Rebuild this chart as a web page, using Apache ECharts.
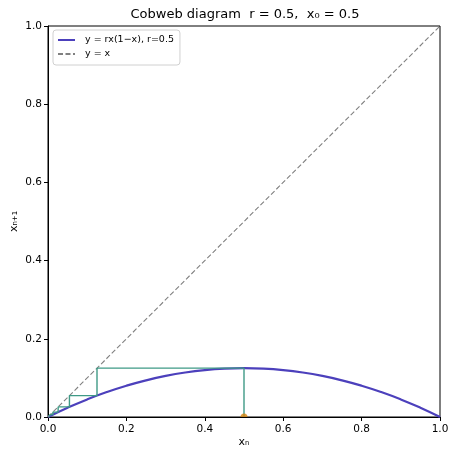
<!DOCTYPE html>
<html>
<head>
<meta charset="utf-8">
<script src="https://cdn.jsdelivr.net/npm/echarts@6/dist/echarts.min.js"></script>
<style>
  html, body { margin: 0; padding: 0; background: #fff; }
  #chart { width: 449px; height: 451px; }
</style>
</head>
<body>
<div id="chart"></div>
<script>
// Logistic map f(x) = r x (1 - x), r = 0.5, sampled on [0, 1]
const curveX = [0, 0.05, 0.1, 0.15, 0.2, 0.25, 0.3, 0.35, 0.4, 0.45, 0.5,
                0.55, 0.6, 0.65, 0.7, 0.75, 0.8, 0.85, 0.9, 0.95, 1];
const curveY = [0, 0.02375, 0.045, 0.06375, 0.08, 0.09375, 0.105, 0.11375, 0.12, 0.12375, 0.125,
                0.12375, 0.12, 0.11375, 0.105, 0.09375, 0.08, 0.06375, 0.045, 0.02375, 0];

// Orbit of x0 = 0.5 under the map
const orbit = [0.5, 0.125, 0.0546875, 0.02585, 0.01259, 0.00622, 0.00309, 0.00154, 0.00077];

// Identity line end points
const diagX = [0, 1];
const diagY = [0, 1];

// Axis ticks
const tickValues = [0, 0.2, 0.4, 0.6, 0.8, 1.0];

const titleText = 'Cobweb diagram  r = 0.5,  x\u2080 = 0.5';
const curveName = 'y = rx(1\u2212x), r=0.5';
const diagName = 'y = x';

// Cobweb path: up from the axis to the curve, then alternately across to y = x and to the curve
const cobweb = [[orbit[0], 0]];
for (let i = 0; i < orbit.length - 1; i++) {
  cobweb.push([orbit[i], orbit[i + 1]]);
  cobweb.push([orbit[i + 1], orbit[i + 1]]);
}

const FONT = 'DejaVu Sans';
const chart = echarts.init(document.getElementById('chart'), null, { renderer: 'canvas' });

const axisCommon = {
  type: 'value',
  min: tickValues[0],
  max: tickValues[tickValues.length - 1],
  interval: 0.2,
  axisLine: { show: true, onZero: false, lineStyle: { color: '#000', width: 1 } },
  axisTick: { show: true, inside: false, length: 4, lineStyle: { color: '#000', width: 1 } },
  splitLine: { show: false },
  nameLocation: 'middle',
  nameMoveOverlap: false,
  nameTextStyle: { fontFamily: FONT, fontSize: 11, color: '#000' }
};

chart.setOption({
  animation: false,
  backgroundColor: '#fff',
  title: {
    text: titleText,
    left: 240,
    textAlign: 'center',
    top: 3,
    textStyle: { fontFamily: FONT, fontSize: 13, fontWeight: 'normal', color: '#000' }
  },
  legend: {
    orient: 'vertical',
    left: 53,
    top: 30,
    padding: [5, 6, 6, 4],
    itemWidth: 17,
    itemHeight: 10,
    itemGap: 4,
    backgroundColor: '#fff',
    borderColor: '#d0d0d0',
    borderWidth: 1,
    borderRadius: 3,
    data: [curveName, diagName],
    // line-only legend keys
    itemStyle: { color: 'rgba(0,0,0,0)', borderColor: 'rgba(0,0,0,0)', borderWidth: 0, opacity: 0 },
    textStyle: { fontFamily: FONT, fontSize: 9.5, color: '#000', padding: [0, 0, 0, 5] }
  },
  grid: {
    left: 48, right: 9, top: 26, bottom: 34,
    outerBoundsMode: 'none',
    containLabel: false,
    show: true, borderColor: '#000', borderWidth: 1, backgroundColor: 'transparent'
  },
  xAxis: Object.assign({}, axisCommon, {
    name: 'x\u2099',
    nameGap: 20,
    axisLabel: {
      margin: 7, fontFamily: FONT, fontSize: 10.5, color: '#000',
      formatter: v => v.toFixed(1)
    }
  }),
  yAxis: Object.assign({}, axisCommon, {
    name: 'x\u2099\u208A\u2081',
    nameGap: 28,
    axisLabel: {
      margin: 6, fontFamily: FONT, fontSize: 10.5, color: '#000',
      formatter: v => v.toFixed(1)
    }
  }),
  series: [
    {
      name: curveName,
      type: 'line',
      data: curveX.map((x, i) => [x, curveY[i]]),
      smooth: true,
      symbol: 'none',
      lineStyle: { color: '#4c40bc', width: 2.2 },
      itemStyle: { color: '#4c40bc' },
      z: 3
    },
    {
      name: diagName,
      type: 'line',
      data: diagX.map((x, i) => [x, diagY[i]]),
      symbol: 'none',
      lineStyle: { color: '#808080', width: 1.1, type: [5, 2.5] },
      itemStyle: { color: '#808080' },
      z: 3
    },
    {
      name: 'cobweb',
      type: 'line',
      data: cobweb,
      symbol: 'none',
      lineStyle: { color: '#3f9a86', width: 1.4 },
      itemStyle: { color: '#3f9a86' },
      z: 4
    },
    {
      name: 'start',
      type: 'scatter',
      data: [[orbit[0], 0]],
      symbol: 'path://M0,10 A10,10 0 0 1 20,10 Z',
      symbolSize: [7, 3.5],
      symbolOffset: [0, -1.75],
      itemStyle: { color: '#d6850f' },
      z: 5
    }
  ]
});
</script>
</body>
</html>
